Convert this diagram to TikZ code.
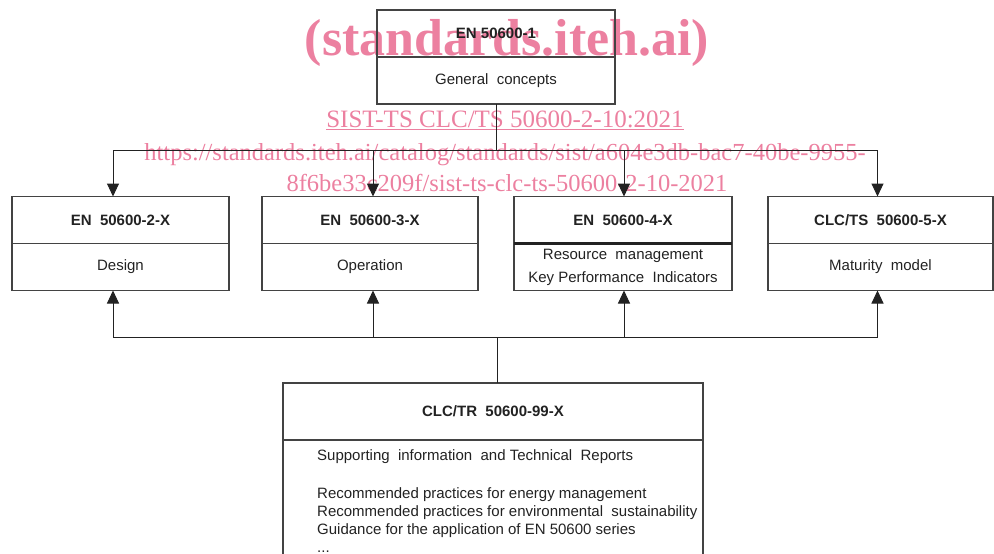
\documentclass[tikz,border=0pt]{standalone}
\usepackage{fontspec}
\setmainfont{Liberation Sans}
\newfontfamily\wmfont{Liberation Serif}
\usepackage{xcolor}
\usetikzlibrary{arrows.meta}
\definecolor{wmpink}{RGB}{236,128,160}
\definecolor{ink}{RGB}{34,34,34}

\begin{document}
\begin{tikzpicture}[x=1pt,y=1pt,>={Triangle[length=13pt,width=12pt]},
  head/.style={draw=ink!85,line width=1.2pt,minimum height=47pt,inner sep=0pt,outer sep=0pt,font=\fontsize{15}{18}\selectfont\bfseries,text=ink},
  body/.style={draw=ink!85,line width=1.2pt,minimum height=47pt,inner sep=0pt,outer sep=0pt,font=\fontsize{15}{18}\selectfont,text=ink,align=center},
  link/.style={draw=ink,line width=1pt},
  wm/.style={text=wmpink,inner sep=0pt}]
  \clip (0,0) rectangle (994,-554);
  % watermark
  \node[wm,font=\wmfont\fontsize{52}{52}\selectfont\bfseries] (wmsite) at (507,-43) {(standards.iteh.ai)};
  \node[wm,font=\wmfont\fontsize{25}{25}\selectfont] (wmcode) at (505,-120) {\underline{SIST-TS CLC/TS 50600-2-10:2021}};
  \node[wm,font=\wmfont\fontsize{24.5}{25}\selectfont] (wmurla) at (505,-155) {https://standards.iteh.ai/catalog/standards/sist/a604e3db-bac7-40be-9955-};
  \node[wm,font=\wmfont\fontsize{24.5}{25}\selectfont] (wmurlb) at (507,-183) {8f6be33c209f/sist-ts-clc-ts-50600-2-10-2021};
  % top
  \node[head,minimum width=238] (en1) at (496,-33.5) {EN 50600-1};
  \node[body,minimum width=238,anchor=north] (en1b) at (en1.south) {General\ \ concepts};
  % row
  \node[head,minimum width=217] (en2) at (120.5,-220) {EN\ \ 50600-2-X};
  \node[body,minimum width=217,anchor=north] (en2b) at (en2.south) {Design};
  \node[head,minimum width=216] (en3) at (370,-220) {EN\ \ 50600-3-X};
  \node[body,minimum width=216,anchor=north] (en3b) at (en3.south) {Operation};
  \node[head,minimum width=218] (en4) at (623,-220) {EN\ \ 50600-4-X};
  \node[body,minimum width=218,anchor=north,font=\fontsize{15}{23}\selectfont] (en4b) at (en4.south) {Resource\ \ management\\Key\ Performance\ \ Indicators};
  \draw[ink,line width=2.2pt] (en4b.north west) -- (en4b.north east);
  \node[head,minimum width=225] (ts5) at (880.5,-220) {CLC/TS\ \ 50600-5-X};
  \node[body,minimum width=225,anchor=north] (ts5b) at (ts5.south) {Maturity\ \ model};
  % bottom
  \node[head,minimum width=420,minimum height=57] (tr99) at (493,-411.5) {CLC/TR\ \ 50600-99-X};
  \node[body,minimum width=420,minimum height=130,anchor=north] (tr99b) at (tr99.south) {};
  \node[anchor=north west,align=left,inner sep=0pt,text=ink,font=\fontsize{15}{18}\selectfont] (tr99txt) at ([shift={(34,-9)}]tr99b.north west)
    {Supporting\ \ information\ \ and Technical\ \ Reports\\[20pt]
     Recommended practices for energy management\\
     Recommended practices for environmental\ \ sustainability\\
     Guidance for the application of EN 50600 series\\
     ...};
  % links
  \coordinate (split) at (496,-150);
  \draw[link] (en1b.south) -- (split);
  \draw[link,->] (split) -| ([xshift=-7.5]en2.north);
  \draw[link,->] (split) -| ([xshift=3]en3.north);
  \draw[link,->] (split) -| ([xshift=1]en4.north);
  \draw[link,->] (split) -| ([xshift=-3]ts5.north);
  \coordinate (merge) at (497,-337);
  \draw[link] (merge) -- (merge |- tr99.north);
  \draw[link,->] (merge) -| ([xshift=-7.5]en2b.south);
  \draw[link,->] (merge) -| ([xshift=3]en3b.south);
  \draw[link,->] (merge) -| ([xshift=1]en4b.south);
  \draw[link,->] (merge) -| ([xshift=-3]ts5b.south);
\end{tikzpicture}
\end{document}
